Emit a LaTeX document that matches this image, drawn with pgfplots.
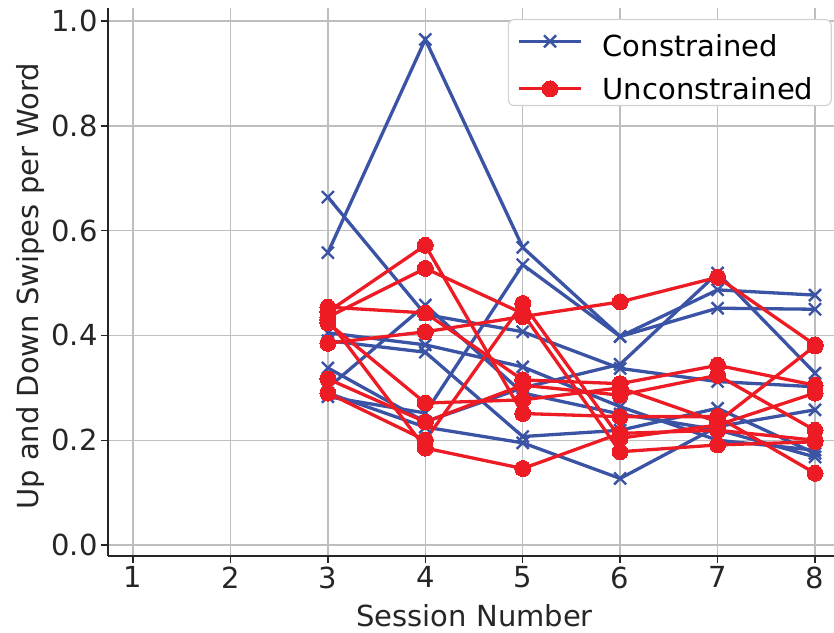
\documentclass[border=0pt]{standalone}
\usepackage{pgfplots}
\pgfplotsset{compat=1.18}
\usepackage{fontspec}
\setmainfont{DejaVu Sans}
\definecolor{cblue}{RGB}{59,83,164}
\definecolor{cred}{RGB}{237,28,36}
\definecolor{gridc}{RGB}{190,190,190}
\definecolor{axc}{RGB}{38,38,38}
\begin{document}
\begin{tikzpicture}[font=\fontsize{29}{35}\selectfont]
\path[use as bounding box] (-108pt,-76pt) rectangle (726pt,556pt);
\begin{axis}[
  at={(0pt,0pt)}, anchor=south west,
  scale only axis, width=726pt, height=548pt,
  xmin=0.743, xmax=8.195, ymin=-0.021, ymax=1.025,
  axis x line*=bottom, axis y line*=left,
  x axis line style={-, line width=1.6pt, color=axc},
  y axis line style={-, line width=1.6pt, color=axc},
  xtick={1,2,3,4,5,6,7,8},
  ytick={0,0.2,0.4,0.6,0.8,1.0},
  tick align=outside, major tick length=7pt,
  tick style={line width=1.4pt, color=axc},
  grid=major, major grid style={gridc, line width=1.4pt},
  /pgf/number format/assume math mode=true,
  yticklabel style={/pgf/number format/fixed, /pgf/number format/fixed zerofill, /pgf/number format/precision=1, color=axc},
  xticklabel style={color=axc},
  xlabel={Session Number}, ylabel={Up and Down Swipes per Word},
  xlabel style={at={(axis description cs:0.505,-0.108)}, anchor=center, color=axc},
  ylabel style={at={(axis description cs:-0.107,0.492)}, anchor=center, rotate=0, color=axc},
  legend style={at={(rel axis cs:0.997,0.98)}, anchor=north east, draw=gray!35, line width=1.2pt, rounded corners=6pt, fill=white, inner xsep=9pt, inner ysep=3pt, row sep=15pt,
    nodes={inner xsep=0pt, inner ysep=2pt},
    /tikz/every odd column/.append style={column sep=20pt}},
  legend cell align=left,
  legend image code/.code={\draw[mark repeat=2,mark phase=2] plot coordinates {(0pt,0pt) (31pt,0pt) (62pt,0pt)};},
  bl/.style={color=cblue, line width=3.3pt, mark=x, mark size=8.5pt, mark options={line width=2.4pt}},
  rd/.style={color=cred, line width=3.3pt, mark=*, mark size=8pt, mark options={draw=cred, fill=cred, line width=0pt}},
]
% Constrained (blue)
\addplot[bl] coordinates {(3,0.558) (4,0.965) (5,0.568) (6,0.398) (7,0.487) (8,0.477)};
\addlegendentry{\rule{0pt}{32pt}Constrained}
\addplot[bl, forget plot] coordinates {(3,0.664) (4,0.440) (5,0.407) (6,0.337) (7,0.312) (8,0.302)};
\addplot[bl, forget plot] coordinates {(3,0.283) (4,0.252) (5,0.535) (6,0.398) (7,0.452) (8,0.450)};
\addplot[bl, forget plot] coordinates {(3,0.405) (4,0.382) (5,0.340) (6,0.264) (7,0.200) (8,0.181)};
\addplot[bl, forget plot] coordinates {(3,0.390) (4,0.368) (5,0.207) (6,0.219) (7,0.261) (8,0.175)};
\addplot[bl, forget plot] coordinates {(3,0.338) (4,0.235) (5,0.300) (6,0.345) (7,0.519) (8,0.328)};
\addplot[bl, forget plot] coordinates {(3,0.290) (4,0.225) (5,0.195) (6,0.127) (7,0.226) (8,0.258)};
\addplot[bl, forget plot] coordinates {(3,0.300) (4,0.458) (5,0.290) (6,0.250) (7,0.220) (8,0.168)};
% Unconstrained (red)
\addplot[rd] coordinates {(3,0.445) (4,0.572) (5,0.251) (6,0.245) (7,0.245) (8,0.137)};
\addlegendentry{Unconstrained\hspace*{9pt}}
\addplot[rd, forget plot] coordinates {(3,0.435) (4,0.528) (5,0.442) (6,0.178) (7,0.191) (8,0.197)};
\addplot[rd, forget plot] coordinates {(3,0.385) (4,0.407) (5,0.436) (6,0.464) (7,0.511) (8,0.382)};
\addplot[rd, forget plot] coordinates {(3,0.454) (4,0.443) (5,0.315) (6,0.308) (7,0.343) (8,0.305)};
\addplot[rd, forget plot] coordinates {(3,0.424) (4,0.271) (5,0.277) (6,0.300) (7,0.235) (8,0.380)};
\addplot[rd, forget plot] coordinates {(3,0.317) (4,0.235) (5,0.305) (6,0.286) (7,0.324) (8,0.219)};
\addplot[rd, forget plot] coordinates {(3,0.290) (4,0.200) (5,0.461) (6,0.204) (7,0.229) (8,0.290)};
\addplot[rd, forget plot] coordinates {(3,0.430) (4,0.185) (5,0.146) (6,0.213) (7,0.219) (8,0.200)};
\end{axis}
\end{tikzpicture}
\end{document}
